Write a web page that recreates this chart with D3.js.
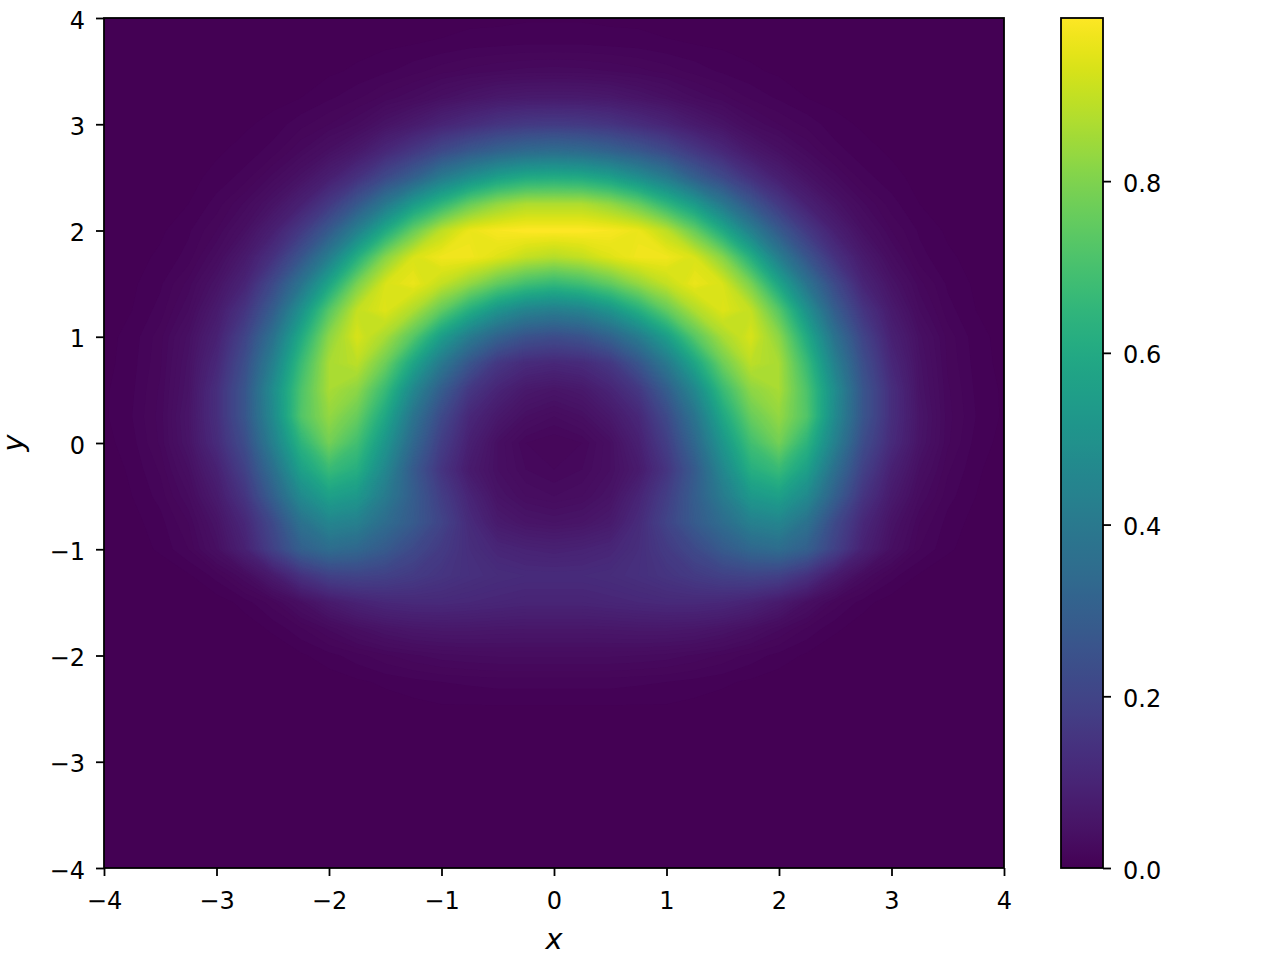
<!DOCTYPE html>
<html>
<head>
<meta charset="utf-8">
<script src="https://cdn.jsdelivr.net/npm/d3@7"></script>
<style>
  body { margin: 0; background: #fff; }
  text { font-family: "DejaVu Sans", sans-serif; fill: #000; }
</style>
</head>
<body>
<svg id="chart" width="1280" height="960"></svg>
<script>
// sample positions of the density grid
var gridX = [-4,-3.75,-3.5,-3.25,-3,-2.75,-2.5,-2.25,-2,-1.75,-1.5,-1.25,-1,-0.75,-0.5,-0.25,0,0.25,0.5,0.75,1,1.25,1.5,1.75,2,2.25,2.5,2.75,3,3.25,3.5,3.75,4];
var gridY = [4,3.75,3.5,3.25,3,2.75,2.5,2.25,2,1.75,1.5,1.25,1,0.75,0.5,0.25,0,-0.25,-0.5,-0.75,-1,-1.25,-1.5,-1.75,-2,-2.25,-2.5,-2.75,-3,-3.25,-3.5,-3.75,-4];

// values, one row per gridY (top to bottom)
var density = [
  [0,0,0,0,0,0,0,0,0,.001,.001,.002,.002,.003,.003,.004,.004,.004,.003,.003,.002,.002,.001,.001,0,0,0,0,0,0,0,0,0],
  [0,0,0,0,0,0,.001,.001,.002,.003,.004,.005,.006,.008,.009,.01,.01,.01,.009,.008,.006,.005,.004,.003,.002,.001,.001,0,0,0,0,0,0],
  [0,0,0,0,0,.001,.001,.002,.004,.006,.009,.013,.018,.022,.025,.027,.028,.027,.025,.022,.018,.013,.009,.006,.004,.002,.001,.001,0,0,0,0,0],
  [0,0,0,0,0,.001,.003,.005,.009,.014,.022,.03,.042,.053,.064,.069,.07,.069,.064,.053,.042,.03,.022,.014,.009,.005,.003,.001,0,0,0,0,0],
  [0,0,0,.001,.002,.004,.007,.013,.02,.03,.05,.07,.1,.125,.15,.165,.17,.165,.15,.125,.1,.07,.05,.03,.02,.013,.007,.004,.002,.001,0,0,0],
  [0,0,.001,.002,.004,.007,.012,.025,.042,.065,.11,.16,.22,.27,.31,.34,.35,.34,.31,.27,.22,.16,.11,.065,.042,.025,.012,.007,.004,.002,.001,0,0],
  [0,0,.001,.003,.007,.012,.027,.048,.083,.14,.22,.3,.41,.49,.56,.6,.61,.6,.56,.49,.41,.3,.22,.14,.083,.048,.027,.012,.007,.003,.001,0,0],
  [0,.001,.002,.005,.012,.026,.05,.09,.165,.27,.4,.54,.65,.76,.83,.87,.87,.87,.83,.76,.65,.54,.4,.27,.165,.09,.05,.026,.012,.005,.002,.001,0],
  [.001,.002,.004,.009,.02,.042,.085,.165,.28,.43,.6,.76,.89,.96,.98,.99,.99,.99,.98,.96,.89,.76,.6,.43,.28,.165,.085,.042,.02,.009,.004,.002,.001],
  [.001,.003,.006,.012,.032,.068,.14,.26,.42,.62,.81,.93,.97,.97,.94,.9,.88,.9,.94,.97,.97,.93,.81,.62,.42,.26,.14,.068,.032,.012,.006,.003,.001],
  [.002,.004,.009,.022,.05,.1,.22,.38,.58,.79,.93,.96,.9,.83,.75,.69,.66,.69,.75,.83,.9,.96,.93,.79,.58,.38,.22,.1,.05,.022,.009,.004,.002],
  [.002,.005,.012,.03,.07,.15,.29,.5,.73,.9,.94,.87,.75,.62,.51,.44,.42,.44,.51,.62,.75,.87,.94,.9,.73,.5,.29,.15,.07,.03,.012,.005,.002],
  [.003,.007,.018,.042,.09,.2,.37,.6,.82,.93,.86,.73,.55,.41,.31,.25,.23,.25,.31,.41,.55,.73,.86,.93,.82,.6,.37,.2,.09,.042,.018,.007,.003],
  [.003,.008,.019,.047,.11,.235,.43,.67,.86,.89,.77,.58,.4,.26,.16,.12,.11,.12,.16,.26,.4,.58,.77,.89,.86,.67,.43,.235,.11,.047,.019,.008,.003],
  [.004,.009,.021,.05,.13,.26,.48,.71,.86,.82,.67,.46,.29,.16,.1,.065,.055,.065,.1,.16,.29,.46,.67,.82,.86,.71,.48,.26,.13,.05,.021,.009,.004],
  [.004,.01,.022,.055,.13,.26,.47,.72,.83,.76,.59,.38,.22,.11,.065,.04,.03,.04,.065,.11,.22,.38,.59,.76,.83,.72,.47,.26,.13,.055,.022,.01,.004],
  [.003,.008,.021,.052,.12,.23,.43,.64,.78,.69,.52,.33,.18,.086,.04,.02,.015,.02,.04,.086,.18,.33,.52,.69,.78,.64,.43,.23,.12,.052,.021,.008,.003],
  [.002,.006,.016,.04,.09,.19,.36,.56,.67,.62,.46,.28,.15,.07,.04,.025,.02,.025,.04,.07,.15,.28,.46,.62,.67,.56,.36,.19,.09,.04,.016,.006,.002],
  [.002,.005,.012,.03,.07,.15,.3,.47,.56,.53,.41,.29,.18,.1,.05,.035,.03,.035,.05,.1,.18,.29,.41,.53,.56,.47,.3,.15,.07,.03,.012,.005,.002],
  [.001,.003,.008,.02,.05,.11,.22,.37,.45,.43,.35,.28,.2,.12,.07,.055,.05,.055,.07,.12,.2,.28,.35,.43,.45,.37,.22,.11,.05,.02,.008,.003,.001],
  [0,.002,.006,.015,.04,.09,.19,.3,.35,.33,.28,.22,.17,.13,.105,.095,.09,.095,.105,.13,.17,.22,.28,.33,.35,.3,.19,.09,.04,.015,.006,.002,0],
  [0,0,.001,.004,.012,.03,.07,.14,.19,.2,.19,.17,.15,.135,.125,.12,.12,.12,.125,.135,.15,.17,.19,.2,.19,.14,.07,.03,.012,.004,.001,0,0],
  [0,0,0,0,.002,.007,.018,.04,.07,.095,.11,.115,.115,.11,.105,.1,.1,.1,.105,.11,.115,.115,.11,.095,.07,.04,.018,.007,.002,0,0,0,0],
  [0,0,0,0,0,.002,.006,.014,.026,.04,.052,.06,.063,.063,.061,.06,.06,.06,.061,.063,.063,.06,.052,.04,.026,.014,.006,.002,0,0,0,0,0],
  [0,0,0,0,0,0,.001,.004,.008,.013,.019,.024,.028,.03,.031,.031,.031,.031,.031,.03,.028,.024,.019,.013,.008,.004,.001,0,0,0,0,0,0],
  [0,0,0,0,0,0,0,.001,.002,.004,.006,.008,.01,.011,.012,.012,.012,.012,.012,.011,.01,.008,.006,.004,.002,.001,0,0,0,0,0,0,0],
  [0,0,0,0,0,0,0,0,.001,.001,.002,.003,.004,.004,.004,.004,.004,.004,.004,.004,.004,.003,.002,.001,.001,0,0,0,0,0,0,0,0],
  [0,0,0,0,0,0,0,0,0,0,0,0,.001,.001,.001,.001,.001,.001,.001,.001,.001,0,0,0,0,0,0,0,0,0,0,0,0],
  [0,0,0,0,0,0,0,0,0,0,0,0,0,0,0,0,0,0,0,0,0,0,0,0,0,0,0,0,0,0,0,0,0],
  [0,0,0,0,0,0,0,0,0,0,0,0,0,0,0,0,0,0,0,0,0,0,0,0,0,0,0,0,0,0,0,0,0],
  [0,0,0,0,0,0,0,0,0,0,0,0,0,0,0,0,0,0,0,0,0,0,0,0,0,0,0,0,0,0,0,0,0],
  [0,0,0,0,0,0,0,0,0,0,0,0,0,0,0,0,0,0,0,0,0,0,0,0,0,0,0,0,0,0,0,0,0],
  [0,0,0,0,0,0,0,0,0,0,0,0,0,0,0,0,0,0,0,0,0,0,0,0,0,0,0,0,0,0,0,0,0]
];

var xTicks = [-4,-3,-2,-1,0,1,2,3,4];
var yTicks = [-4,-3,-2,-1,0,1,2,3,4];
var barTicks = [0,0.2,0.4,0.6,0.8];

var svg = d3.select('#chart');
var plot = {left: 104, right: 1004, top: 18, bottom: 868};
var bar = {left: 1061, right: 1103};

var x = d3.scaleLinear().domain([-4, 4]).range([plot.left, plot.right]);
var y = d3.scaleLinear().domain([-4, 4]).range([plot.bottom, plot.top]);

var nx = gridX.length, ny = gridY.length;
var values = [];
density.forEach(function(row) { row.forEach(function(v) { values.push(v); }); });
var vmax = d3.max(values);
var color = d3.scaleSequential(d3.interpolateViridis).domain([0, vmax]);

// contour grid units -> pixels (sample i sits at i + 0.5)
var gx = d3.scaleLinear().domain([0.5, nx - 0.5]).range([x(gridX[0]), x(gridX[nx - 1])]);
var gy = d3.scaleLinear().domain([0.5, ny - 0.5]).range([y(gridY[0]), y(gridY[ny - 1])]);
var path = d3.geoPath(d3.geoTransform({
    point: function(px, py) { this.stream.point(gx(px), gy(py)); }
}));

var step = 0.005;
var contours = d3.contours()
    .size([nx, ny])
    .thresholds(d3.range(step, vmax, step))(values);

var defs = svg.append('defs');
defs.append('clipPath').attr('id', 'plotClip')
    .append('rect')
    .attr('x', plot.left).attr('y', plot.top)
    .attr('width', plot.right - plot.left).attr('height', plot.bottom - plot.top);

var field = svg.append('g').attr('clip-path', 'url(#plotClip)');
field.append('rect')
    .attr('x', plot.left).attr('y', plot.top)
    .attr('width', plot.right - plot.left).attr('height', plot.bottom - plot.top)
    .attr('fill', color(0));
field.selectAll('path')
    .data(contours)
    .enter().append('path')
    .attr('d', path)
    .attr('fill', function(d) { return color(d.value + step / 2); });

function fmt(d) {
    return d < 0 ? '\u2212' + Math.abs(d) : String(d);
}

function styleAxis(g) {
    g.select('.domain').remove();
    g.selectAll('.tick line').attr('stroke', '#000').attr('stroke-width', 1.8);
    g.selectAll('.tick text').attr('font-size', 24).attr('dy', null)
        .style('font-family', '"DejaVu Sans", sans-serif');
}

var xAxis = svg.append('g')
    .attr('transform', 'translate(0,' + plot.bottom + ')')
    .call(d3.axisBottom(x).tickValues(xTicks).tickSize(8).tickFormat(fmt));
styleAxis(xAxis);
xAxis.selectAll('.tick text').attr('y', 41);

var yAxis = svg.append('g')
    .attr('transform', 'translate(' + plot.left + ',0)')
    .call(d3.axisLeft(y).tickValues(yTicks).tickSize(8).tickFormat(fmt));
styleAxis(yAxis);
yAxis.selectAll('.tick text').attr('x', -19).attr('y', 10);

svg.append('rect')
    .attr('x', plot.left).attr('y', plot.top)
    .attr('width', plot.right - plot.left).attr('height', plot.bottom - plot.top)
    .attr('fill', 'none').attr('stroke', '#000').attr('stroke-width', 1.8);

svg.append('text')
    .attr('x', (plot.left + plot.right) / 2).attr('y', 949)
    .attr('text-anchor', 'middle')
    .attr('font-size', 28.8).attr('font-style', 'italic')
    .text('x');

svg.append('text')
    .attr('transform', 'translate(23,' + (plot.top + plot.bottom) / 2 + ') rotate(-90)')
    .attr('text-anchor', 'middle')
    .attr('font-size', 28.8).attr('font-style', 'italic')
    .text('y');

// colorbar
var barScale = d3.scaleLinear().domain([0, vmax]).range([plot.bottom, plot.top]);
var grad = defs.append('linearGradient').attr('id', 'barGrad')
    .attr('x1', 0).attr('y1', 1).attr('x2', 0).attr('y2', 0);
d3.range(0, 1.0001, 0.02).forEach(function(t) {
    grad.append('stop').attr('offset', t).attr('stop-color', d3.interpolateViridis(t));
});

svg.append('rect')
    .attr('x', bar.left).attr('y', plot.top)
    .attr('width', bar.right - bar.left).attr('height', plot.bottom - plot.top)
    .attr('fill', 'url(#barGrad)')
    .attr('stroke', '#000').attr('stroke-width', 1.8);

var barAxis = svg.append('g')
    .attr('transform', 'translate(' + bar.right + ',0)')
    .call(d3.axisRight(barScale).tickValues(barTicks).tickSize(8).tickFormat(d3.format('.1f')));
styleAxis(barAxis);
barAxis.selectAll('.tick text').attr('x', 20).attr('y', 10);
</script>
</body>
</html>
